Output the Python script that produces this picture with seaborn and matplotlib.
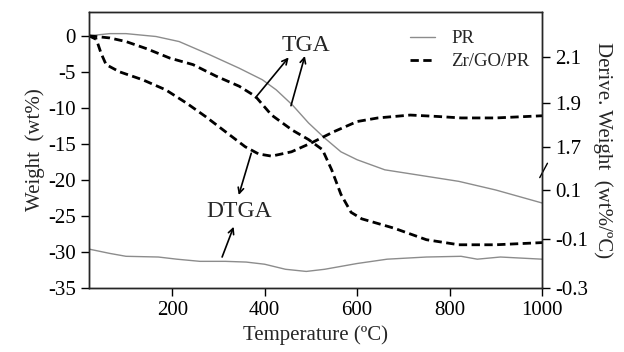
import matplotlib
matplotlib.use('Agg')
import matplotlib.pyplot as plt
import seaborn as sns
from matplotlib.lines import Line2D

# TGA / DTGA curves (left axis units, wt%)
pr_tga_x = [20, 65, 100, 165, 215, 280, 345, 395, 425, 460, 495, 530, 565, 600, 660, 750, 820, 900, 1000]
pr_tga_y = [0, 0.3, 0.3, -0.1, -0.8, -2.6, -4.5, -6.1, -7.5, -9.6, -12.1, -14.2, -16.1, -17.2, -18.6, -19.5, -20.2, -21.4, -23.2]

zr_tga_x = [20, 65, 100, 145, 195, 245, 295, 345, 380, 415, 460, 495, 525, 545, 565, 587, 610, 680, 750, 820, 900, 1000]
zr_tga_y = [0, -0.3, -0.8, -1.8, -3.1, -4.0, -5.6, -7.0, -8.4, -11.0, -13.1, -14.4, -15.8, -18.6, -22.0, -24.5, -25.4, -26.7, -28.3, -29.0, -29.0, -28.7]

zr_dtga_x = [20, 36, 46, 57, 86, 136, 186, 230, 272, 315, 358, 387, 415, 458, 500, 550, 600, 645, 715, 775, 825, 900, 1000]
zr_dtga_y = [0, -0.5, -2.4, -4.0, -5.0, -6.1, -7.5, -9.3, -11.2, -13.3, -15.4, -16.4, -16.7, -16.1, -14.9, -13.3, -11.9, -11.4, -11.0, -11.2, -11.4, -11.4, -11.1]

pr_dtga_x = [20, 65, 100, 170, 210, 260, 315, 360, 400, 445, 490, 530, 600, 665, 750, 825, 860, 910, 1000]
pr_dtga_y = [-29.6, -30.2, -30.6, -30.7, -31.0, -31.3, -31.3, -31.4, -31.7, -32.4, -32.7, -32.4, -31.6, -31.0, -30.7, -30.6, -31.0, -30.7, -31.0]

x_ticks = [200, 400, 600, 800, 1000]
left_ticks = [0, -5, -10, -15, -20, -25, -30, -35]
# right axis is a broken scale, mapped onto the left axis positions
right_tick_pos = [-2.9, -9.3, -15.5, -21.4, -28.2, -35]
right_tick_labels = ['2.1', '1.9', '1.7', '0.1', '-0.1', '-0.3']

sns.set_style('ticks')
plt.rcParams['font.family'] = ['Liberation Serif', 'DejaVu Serif']
plt.rcParams['axes.unicode_minus'] = False

fig = plt.figure(figsize=(6.24, 3.52), dpi=100)
ax = fig.add_axes([0.1426, 0.1818, 0.726, 0.7841])

gray = '#8c8c8c'
dash = (0, (3, 1.6))
sns.lineplot(x=pr_tga_x, y=pr_tga_y, ax=ax, color=gray, lw=1.0)
sns.lineplot(x=pr_dtga_x, y=pr_dtga_y, ax=ax, color=gray, lw=1.0)
sns.lineplot(x=zr_tga_x, y=zr_tga_y, ax=ax, color='black', lw=2.0, linestyle=dash)
sns.lineplot(x=zr_dtga_x, y=zr_dtga_y, ax=ax, color='black', lw=2.0, linestyle=dash)

ax.set_xlim(20, 1000)
ax.set_ylim(-35, 3.3)
ax.set_xticks(x_ticks)
ax.set_yticks(left_ticks)
ax.tick_params(labelsize=15, direction='out', length=6, width=1, colors='black')
for s in ax.spines.values():
    s.set_linewidth(1)
    s.set_color('black')
ax.set_xlabel('Temperature (ºC)', fontsize=15, labelpad=4)
ax.set_ylabel('Weight  (wt%)', fontsize=15, labelpad=2)

ax2 = ax.twinx()
ax2.set_ylim(ax.get_ylim())
ax2.set_yticks(right_tick_pos)
ax2.set_yticklabels(right_tick_labels)
ax2.tick_params(labelsize=15, direction='out', length=6, width=1, colors='black')
ax2.set_ylabel('Derive. Weight  (wt%/ºC)', fontsize=15, rotation=270, labelpad=18)
for s in ax2.spines.values():
    s.set_linewidth(1)

# axis break mark on the right spine
ax2.plot([0.995, 1.012], [0.40, 0.452], transform=ax2.transAxes, color='black', lw=1, clip_on=False)

# annotations
arrow = dict(arrowstyle='->', color='black', lw=1.2, shrinkA=0, shrinkB=0)
ax.text(490, -1.3, 'TGA', fontsize=17, ha='center', va='center')
ax.annotate('', xy=(452, -3.0), xytext=(380, -8.6), arrowprops=arrow)
ax.annotate('', xy=(487, -2.8), xytext=(457, -9.7), arrowprops=arrow)
ax.text(344, -24.4, 'DTGA', fontsize=17, ha='center', va='center')
ax.annotate('', xy=(344, -22.1), xytext=(371, -16.3), arrowprops=arrow)
ax.annotate('', xy=(333, -26.5), xytext=(308, -30.7), arrowprops=arrow)

handles = [Line2D([], [], color=gray, lw=1.0),
           Line2D([], [], color='black', lw=2.0, linestyle=dash)]
ax.legend(handles, ['PR', 'Zr/GO/PR'], loc='upper right', bbox_to_anchor=(1.01, 0.995),
          frameon=False, fontsize=13.5, handlelength=1.3, handletextpad=0.9, labelspacing=0.3)

fig.savefig('out.png', dpi=100)
